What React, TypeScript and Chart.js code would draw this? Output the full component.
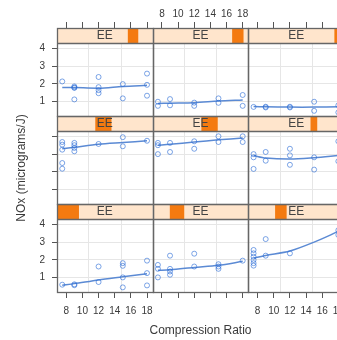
import React, { useEffect, useRef } from 'react';
import { Chart, registerables } from 'chart.js';

Chart.register(...registerables);

// ---- data (panels in lattice order: bottom-left first, row by row upward) ----
const cLevels = [7.5, 9, 12, 15, 18];

const p1C = [7.5, 9, 9, 12, 12, 15, 15, 15, 15, 18, 18, 18];
const p1NOx = [0.61, 0.63, 0.58, 1.63, 0.76, 1.82, 1.67, 1.02, 0.46, 1.96, 1.26, 0.57];
const p1Fit = [0.58, 0.67, 0.88, 1.05, 1.22];

const p2C = [7.5, 7.5, 7.5, 9, 9, 9, 9, 12, 12, 15, 15, 15, 18];
const p2NOx = [1.72, 1.5, 1.02, 2.24, 1.5, 1.35, 1.17, 2.35, 1.63, 1.76, 1.63, 1.5, 1.96];
const p2Fit = [1.42, 1.45, 1.58, 1.7, 1.92];

const p3C = [7.5, 7.5, 7.5, 7.5, 7.5, 7.5, 9, 9, 12, 18, 18];
const p3NOx = [2.56, 2.37, 2.18, 2.0, 1.82, 1.68, 3.17, 2.24, 2.37, 3.67, 3.4];
const p3Fit = [2.1, 2.25, 2.5, 3.0, 3.6];

const p4C = [7.5, 7.5, 7.5, 7.5, 7.5, 9, 9, 9, 9, 12, 15, 15, 18];
const p4NOx = [3.68, 3.53, 3.25, 2.5, 2.18, 3.63, 3.5, 3.35, 3.16, 3.57, 3.95, 3.44, 3.75];
const p4Fit = [3.3, 3.38, 3.55, 3.65, 3.75];

const p5C = [7.5, 7.5, 7.5, 9, 9, 12, 12, 15, 15, 18, 18];
const p5NOx = [3.63, 3.5, 3.0, 3.63, 3.12, 3.72, 3.3, 4.0, 3.68, 4.0, 3.68];
const p5Fit = [3.5, 3.55, 3.68, 3.8, 3.9];

const p6C = [7.5, 7.5, 7.5, 9, 9, 12, 12, 12, 15, 15, 18, 18];
const p6NOx = [3.0, 2.82, 2.17, 3.12, 2.63, 3.3, 2.93, 2.4, 2.82, 2.13, 3.72, 2.6];
const p6Fit = [2.92, 2.78, 2.72, 2.8, 2.92];

const p7C = [7.5, 9, 9, 9, 9, 12, 12, 12, 12, 15, 15, 18, 18, 18];
const p7NOx = [2.14, 1.86, 1.8, 1.78, 1.13, 2.39, 1.82, 1.65, 1.48, 1.99, 1.19, 2.58, 1.95, 1.34];
const p7Fit = [1.8, 1.8, 1.76, 1.86, 1.92];

const p8C = [7.5, 7.5, 9, 9, 12, 12, 15, 15, 18, 18];
const p8NOx = [1.0, 0.77, 1.15, 0.8, 0.95, 0.77, 1.19, 0.94, 1.38, 0.77];
const p8Fit = [0.9, 0.92, 0.95, 1.04, 1.1];

const p9C = [7.5, 9, 9, 12, 12, 15, 15, 18, 18];
const p9NOx = [0.71, 0.72, 0.68, 0.72, 0.68, 1.0, 0.49, 0.8, 0.4];
const p9Fit = [0.73, 0.72, 0.7, 0.7, 0.72];

// shingle (equivalence ratio) intervals per panel
const shingleLo = [0.535, 0.66, 0.73, 0.814, 0.89, 0.988, 1.051, 1.114, 1.162];
const shingleHi = [0.695, 0.765, 0.814, 0.932, 1.009, 1.037, 1.127, 1.197, 1.232];
const E_MIN = 0.535;
const E_MAX = 1.232;
const stripLabel = 'EE';

const xTickValues = [8, 10, 12, 14, 16, 18];
const yTickValues = [1, 2, 3, 4];
const xGridValues = [10.8, 14.8];
const topLabelCols = [1];
const bottomLabelCols = [0, 2];
const leftLabelRowsFromBottom = [0, 2];

const xTitle = 'Compression Ratio';
const yTitle = 'NOx (micrograms/J)';

// ---- panel geometry in scale units ----
const X_LO = 6.85;
const X_HI = 18.7;
const W = X_HI - X_LO;
const Y_LO = 0.2;
const Y_HI = 4.3;
const PH = Y_HI - Y_LO;
const SH = 0.84;
const RH = PH + SH;

const FONT = '"Liberation Sans", Arial, Helvetica, sans-serif';
const POINT_COLOR = 'rgba(45,110,215,0.62)';
const LINE_COLOR = '#5b8ad4';
const BORDER_COLOR = '#666666';
const GRID_COLOR = '#e6e6e6';
const TEXT_COLOR = '#3a3a3a';

const panels = [
  { c: p1C, y: p1NOx, fit: p1Fit },
  { c: p2C, y: p2NOx, fit: p2Fit },
  { c: p3C, y: p3NOx, fit: p3Fit },
  { c: p4C, y: p4NOx, fit: p4Fit },
  { c: p5C, y: p5NOx, fit: p5Fit },
  { c: p6C, y: p6NOx, fit: p6Fit },
  { c: p7C, y: p7NOx, fit: p7Fit },
  { c: p8C, y: p8NOx, fit: p8Fit },
  { c: p9C, y: p9NOx, fit: p9Fit },
];

const xv = (c: number, col: number) => c - X_LO + col * W;
const yv = (v: number, rb: number) => v - Y_LO + rb * RH;

function buildDatasets() {
  const ds: any[] = [];
  panels.forEach((p, k) => {
    const col = k % 3;
    const rb = Math.floor(k / 3);
    ds.push({
      type: 'scatter',
      data: p.c.map((c, i) => ({ x: xv(c, col), y: yv(p.y[i], rb) })),
      xAxisID: 'x',
      yAxisID: 'y',
      pointStyle: 'circle',
      pointRadius: 2.5,
      pointBorderWidth: 1,
      borderColor: POINT_COLOR,
      backgroundColor: 'rgba(0,0,0,0)',
      showLine: false,
    });
    ds.push({
      type: 'scatter',
      data: cLevels.map((c, i) => ({ x: xv(c, col), y: yv(p.fit[i], rb) })),
      xAxisID: 'x',
      yAxisID: 'y',
      showLine: true,
      pointRadius: 0,
      borderColor: LINE_COLOR,
      borderWidth: 1.5,
      tension: 0.3,
      backgroundColor: 'rgba(0,0,0,0)',
    });
  });
  return ds;
}

const xTicksAll = () => {
  const t: any[] = [];
  for (let col = 0; col < 3; col++) xTickValues.forEach((v) => t.push({ value: xv(v, col) }));
  return t;
};
const colOf = (value: number) => Math.min(2, Math.floor(value / W + 1e-9));
const xLabel = (cols: number[]) => (value: any) => {
  const col = colOf(Number(value));
  if (!cols.includes(col)) return '';
  return String(Math.round(Number(value) - col * W + X_LO));
};

const stripPlugin = {
  id: 'latticeStrips',
  beforeDatasetsDraw(chart: any) {
    const { ctx } = chart;
    const xs = chart.scales.x;
    const ys = chart.scales.y;
    ctx.save();
    panels.forEach((_p, k) => {
      const col = k % 3;
      const rb = Math.floor(k / 3);
      const left = xs.getPixelForValue(col * W);
      const right = xs.getPixelForValue((col + 1) * W);
      const top = ys.getPixelForValue(rb * RH + PH + SH);
      const bottom = ys.getPixelForValue(rb * RH + PH);
      ctx.fillStyle = '#ffe5cc';
      ctx.fillRect(left, top, right - left, bottom - top);
      const e0 = left + ((shingleLo[k] - E_MIN) / (E_MAX - E_MIN)) * (right - left);
      const e1 = left + ((shingleHi[k] - E_MIN) / (E_MAX - E_MIN)) * (right - left);
      ctx.fillStyle = '#f47a10';
      ctx.fillRect(e0, top, e1 - e0, bottom - top);
      ctx.fillStyle = '#444';
      ctx.font = `12px ${FONT}`;
      ctx.textAlign = 'center';
      ctx.textBaseline = 'middle';
      ctx.fillText(stripLabel, (left + right) / 2, (top + bottom) / 2 + 0.5);
    });
    ctx.restore();
  },
  afterDatasetsDraw(chart: any) {
    const { ctx } = chart;
    const xs = chart.scales.x;
    const ys = chart.scales.y;
    ctx.save();
    ctx.strokeStyle = BORDER_COLOR;
    ctx.lineWidth = 1.3;
    panels.forEach((_p, k) => {
      const col = k % 3;
      const rb = Math.floor(k / 3);
      const left = Math.round(xs.getPixelForValue(col * W)) + 0.5;
      const right = Math.round(xs.getPixelForValue((col + 1) * W)) + 0.5;
      const top = Math.round(ys.getPixelForValue(rb * RH + PH + SH)) + 0.5;
      const mid = Math.round(ys.getPixelForValue(rb * RH + PH)) + 0.5;
      const bottom = Math.round(ys.getPixelForValue(rb * RH)) + 0.5;
      ctx.strokeRect(left, top, right - left, bottom - top);
      ctx.beginPath();
      ctx.moveTo(left, mid);
      ctx.lineTo(right, mid);
      ctx.stroke();
    });
    ctx.restore();
  },
  afterDraw(chart: any) {
    const { ctx, chartArea } = chart;
    ctx.save();
    ctx.translate(22, (chartArea.top + chartArea.bottom) / 2 + 8);
    ctx.rotate(-Math.PI / 2);
    ctx.font = `12px ${FONT}`;
    ctx.fillStyle = TEXT_COLOR;
    ctx.textAlign = 'center';
    ctx.textBaseline = 'middle';
    ctx.fillText(yTitle, 0, 0);
    ctx.restore();
  },
};

export default function App() {
  const ref = useRef<HTMLCanvasElement>(null);
  useEffect(() => {
    if (!ref.current) return;
    const tickFont = { family: FONT, size: 10 };
    const chart = new Chart(ref.current, {
      type: 'scatter',
      data: { datasets: buildDatasets() },
      plugins: [stripPlugin],
      options: {
        animation: false,
        responsive: false,
        maintainAspectRatio: false,
        events: [],
        layout: { padding: { left: 0, right: 8, top: 0, bottom: 0 } },
        plugins: { legend: { display: false }, tooltip: { enabled: false } },
        scales: {
          x: {
            type: 'linear',
            position: 'bottom',
            min: 0,
            max: 3 * W,
            afterBuildTicks: (s: any) => { s.ticks = xTicksAll(); },
            ticks: {
              callback: xLabel(bottomLabelCols),
              autoSkip: false,
              maxRotation: 0,
              minRotation: 0,
              padding: 7,
              color: TEXT_COLOR,
              font: tickFont,
            },
            grid: { drawOnChartArea: false, tickLength: 6, tickColor: '#555', color: '#555' },
            border: { display: false },
            title: {
              display: true,
              text: xTitle,
              color: TEXT_COLOR,
              font: { family: FONT, size: 12 },
              padding: { top: 0, bottom: 2 },
            },
            afterFit: (s: any) => { s.height = 48; },
          },
          xGrid: {
            type: 'linear',
            axis: 'x',
            position: 'bottom',
            min: 0,
            max: 3 * W,
            afterBuildTicks: (s: any) => {
              const t: any[] = [];
              for (let col = 0; col < 3; col++) xGridValues.forEach((v) => t.push({ value: xv(v, col) }));
              s.ticks = t;
            },
            ticks: { display: false },
            grid: { drawTicks: false, color: GRID_COLOR, lineWidth: 1 },
            border: { display: false },
            afterFit: (s: any) => { s.height = 0; },
          },
          xTop: {
            type: 'linear',
            axis: 'x',
            position: 'top',
            min: 0,
            max: 3 * W,
            afterBuildTicks: (s: any) => { s.ticks = xTicksAll(); },
            ticks: {
              callback: xLabel(topLabelCols),
              autoSkip: false,
              maxRotation: 0,
              minRotation: 0,
              padding: 2,
              color: TEXT_COLOR,
              font: tickFont,
            },
            grid: { drawOnChartArea: false, tickLength: 6, tickColor: '#555', color: '#555' },
            border: { display: false },
            afterFit: (s: any) => { s.height = 28; },
          },
          y: {
            type: 'linear',
            position: 'left',
            min: 0,
            max: 3 * RH,
            afterBuildTicks: (s: any) => {
              const t: any[] = [];
              for (let rb = 0; rb < 3; rb++) yTickValues.forEach((v) => t.push({ value: yv(v, rb) }));
              s.ticks = t;
            },
            ticks: {
              callback: (value: any) => {
                const rb = Math.min(2, Math.floor(Number(value) / RH + 1e-9));
                if (!leftLabelRowsFromBottom.includes(rb)) return '';
                return String(Math.round(Number(value) - rb * RH + Y_LO));
              },
              autoSkip: false,
              padding: 7,
              color: TEXT_COLOR,
              font: tickFont,
            },
            grid: { drawOnChartArea: true, color: GRID_COLOR, tickColor: '#555', tickLength: 5 },
            border: { display: false },
            afterFit: (s: any) => { s.width = 57; },
          },
        },
      },
    } as any);
    return () => chart.destroy();
  }, []);

  return (
    <div
      style={{
        position: 'absolute',
        left: 0,
        top: 0,
        width: 337,
        height: 340,
        overflow: 'hidden',
        background: '#fff',
      }}
    >
      <canvas ref={ref} width={352} height={340} style={{ display: 'block', width: 352, height: 340 }} />
    </div>
  );
}
